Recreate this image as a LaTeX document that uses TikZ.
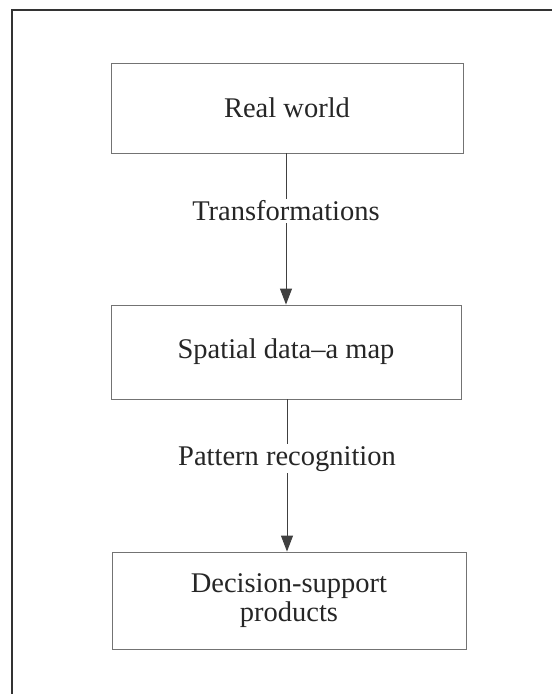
\documentclass[tikz,border=0pt]{standalone}
\usepackage{fontspec}
\setmainfont{Liberation Serif}
\usetikzlibrary{arrows.meta}
\begin{document}
\begin{tikzpicture}[x=1pt,y=-1pt,
  stagebox/.style={draw=black!55,line width=0.9pt,text=black!85,font=\fontsize{28.5}{29}\selectfont,align=center,inner sep=0pt},
  flowlink/.style={draw=black!75,line width=1pt,-{Triangle[width=12pt,length=16pt]}},
  linklabel/.style={fill=white,text=black!85,font=\fontsize{28.5}{29}\selectfont,inner sep=2pt}]
\useasboundingbox (0,0) rectangle (552,694);
\draw[black!80,line width=2pt] (12,694) -- (12,10) -- (552,10);
\node[stagebox,minimum width=352pt,minimum height=90pt] (real) at (287,108) {Real world};
\node[stagebox,minimum width=350pt,minimum height=94pt] (spatial) at (286,352) {Spatial data--a map};
\node[stagebox,minimum width=354pt,minimum height=97pt] (decision) at (289,600.5) {Decision-support\\products};
\draw[flowlink] (real.south -| 286,0) -- node[linklabel,pos=0.38] {Transformations} (spatial.north -| 286,0);
\draw[flowlink] (spatial.south -| 287,0) -- node[linklabel,pos=0.39] {Pattern recognition} (decision.north -| 287,0);
\end{tikzpicture}
\end{document}
